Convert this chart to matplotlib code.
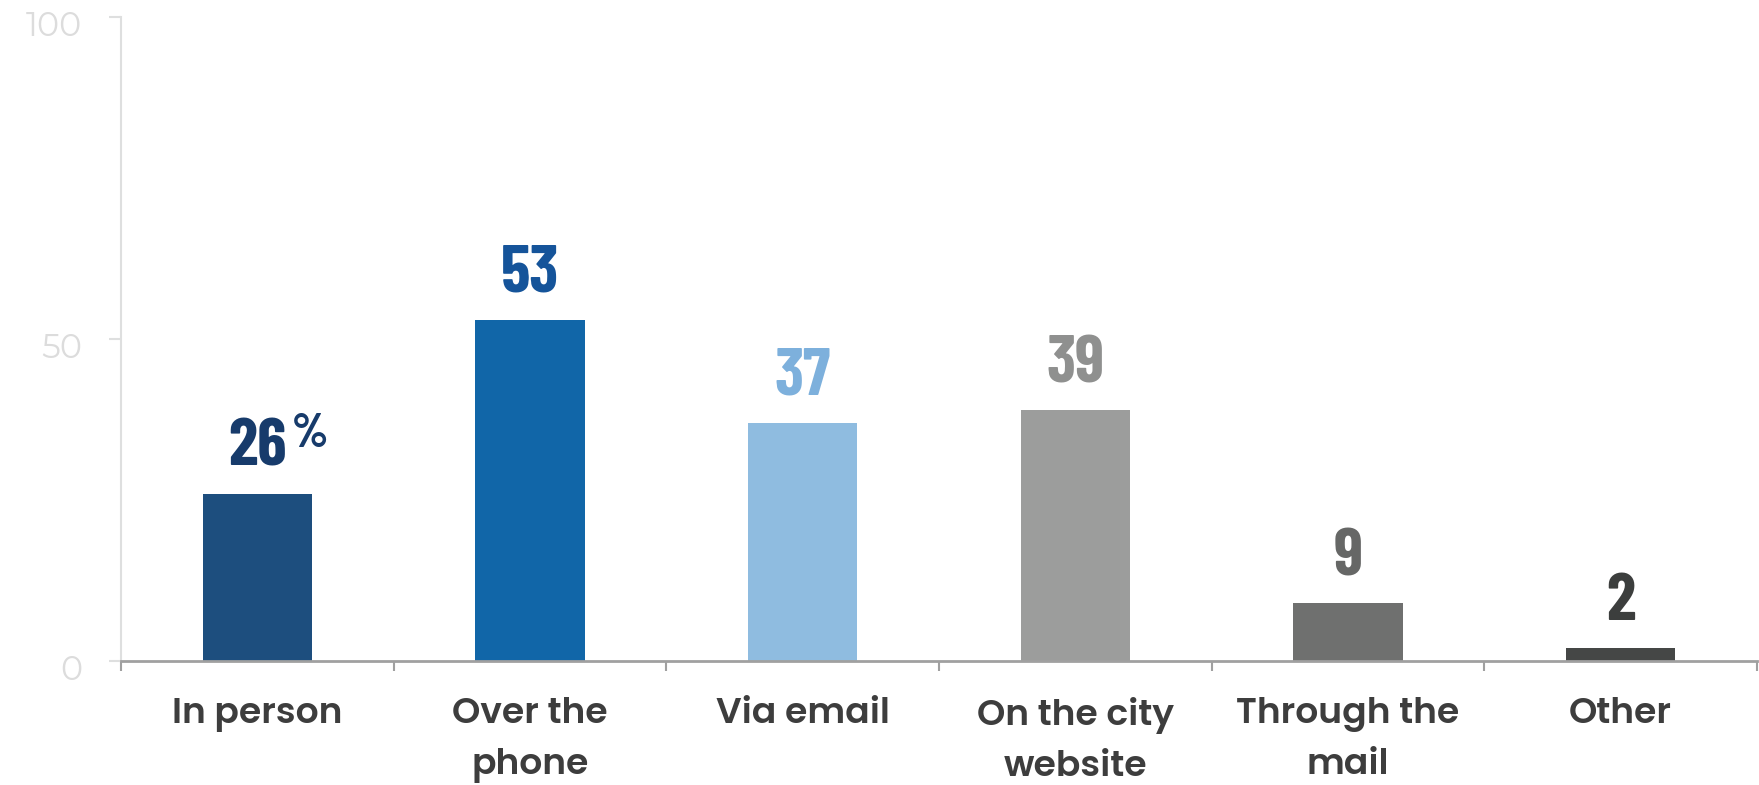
import matplotlib
matplotlib.use("Agg")
import matplotlib.pyplot as plt
from matplotlib.transforms import ScaledTranslation

categories = ["In person", "Over the\nphone", "Via email", "On the city\nwebsite",
              "Through the\nmail", "Other"]
values = [26, 53, 37, 39, 9, 2]
bar_colors = ["#1d4e7e", "#1166a8", "#8fbce0", "#9c9d9c", "#6f706f", "#454746"]
label_colors = ["#173b6b", "#15549a", "#7db0dc", "#8f908f", "#666766", "#3c3e3d"]
y_ticks = [0, 50, 100]

num_font = ["Barlow Condensed", "DejaVu Sans"]
cat_font = ["Poppins", "Lato", "DejaVu Sans"]
tick_font = ["Montserrat Alternates", "Lato", "DejaVu Sans"]

fig = plt.figure(figsize=(17.59, 7.85), dpi=100)
ax = fig.add_axes([121 / 1759, 124 / 785, 1636 / 1759, 644 / 785])

x = list(range(len(categories)))
ax.bar(x, values, width=0.4, color=bar_colors, zorder=2)

ax.set_xlim(-0.5, len(categories) - 0.5)
ax.set_ylim(0, 100)

# value labels
num_texts = []
for i, v in enumerate(values):
    t = ax.annotate(str(v), (i, v), xytext=(0, 20), textcoords="offset points",
                    ha="center", va="baseline", fontsize=48, fontweight="bold",
                    family=num_font, color=label_colors[i])
    num_texts.append(t)

# spines
for s in ["top", "right"]:
    ax.spines[s].set_visible(False)
ax.spines["left"].set_color("#dedfdf")
ax.spines["left"].set_linewidth(1.5)
ax.spines["bottom"].set_color("#a0a0a0")
ax.spines["bottom"].set_linewidth(2)

# y ticks
ax.set_yticks(y_ticks)
ax.set_yticklabels([str(t) for t in y_ticks], fontsize=24, family=tick_font,
                   fontweight=400, color="#dcdcdc")
ax.tick_params(axis="y", direction="out", length=9, width=1.5, color="#dedfdf", pad=19)
for lab in ax.get_yticklabels():
    lab.set_transform(lab.get_transform() + ScaledTranslation(0, -7 / 100, fig.dpi_scale_trans))

# x ticks at boundaries, labels at centres
ax.set_xticks([i - 0.5 for i in range(len(categories) + 1)])
ax.set_xticklabels([])
ax.tick_params(axis="x", which="major", direction="out", length=7, width=1.5, color="#a0a0a0")
ax.set_xticks(x, minor=True)
ax.set_xticklabels(categories, minor=True, fontsize=26, fontweight=600,
                   family=cat_font, color="#3d3d3d", linespacing=1.6)
ax.tick_params(axis="x", which="minor", length=0, pad=26)

# percent sign next to the first value
fig.canvas.draw()
bb = num_texts[0].get_window_extent()
x_right = ax.transData.inverted().transform((bb.x1, bb.y1))[0]
ax.annotate("%", (x_right, values[0]), xytext=(4, 58), textcoords="offset points",
            ha="left", va="top", fontsize=34, fontweight="bold",
            family=num_font, color=label_colors[0])

fig.savefig("out.png", dpi=100)
